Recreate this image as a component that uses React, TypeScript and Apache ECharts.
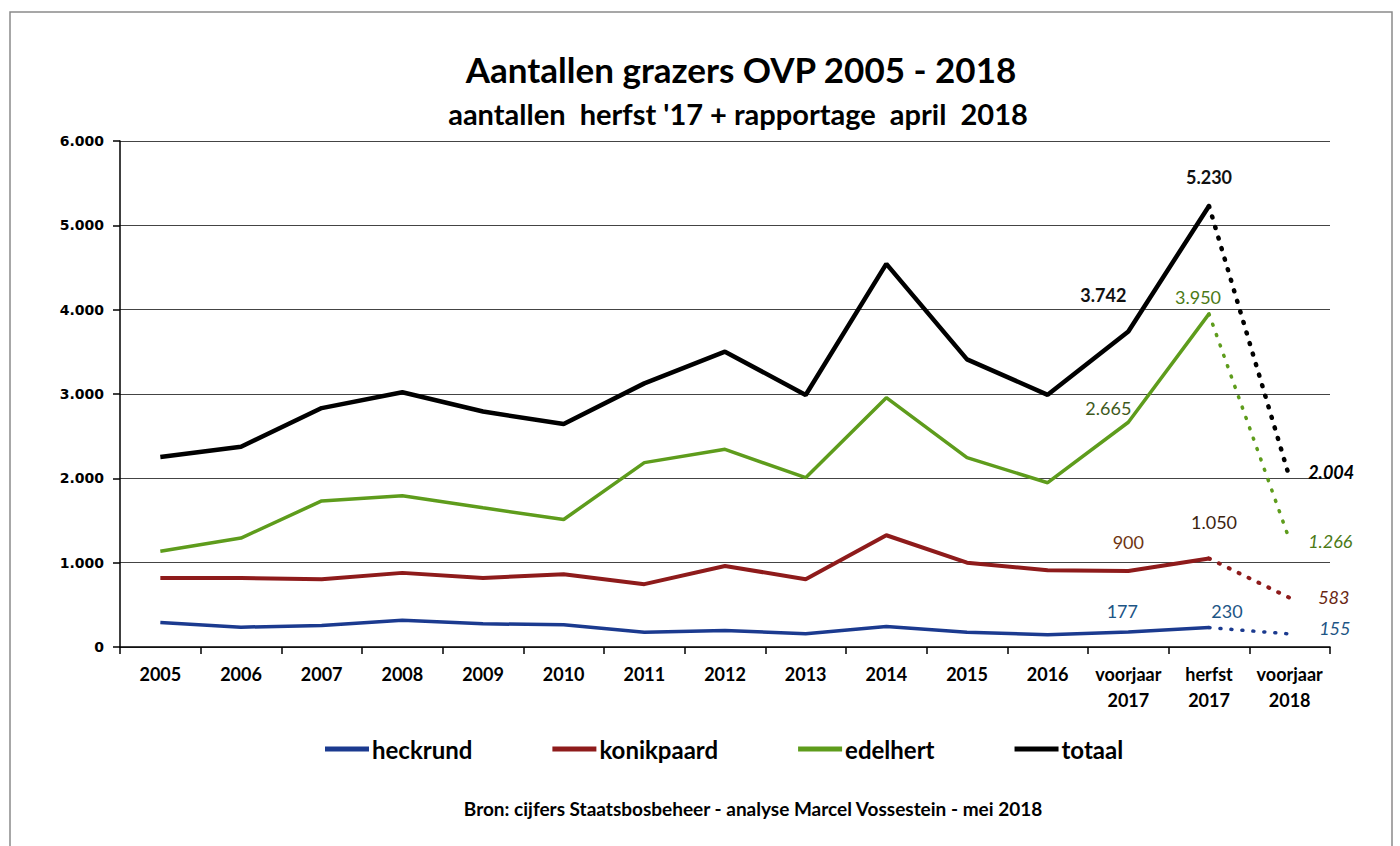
import React, { useEffect, useRef } from "react";
import * as echarts from "echarts";

const categories = [
  "2005", "2006", "2007", "2008", "2009", "2010", "2011", "2012", "2013", "2014", "2015", "2016",
  "voorjaar\n2017", "herfst\n2017", "voorjaar\n2018",
];
const heckrund = [291, 235, 255, 316, 275, 263, 176, 196, 157, 243, 176, 145, 177, 230, 155];
const konikpaard = [818, 818, 802, 879, 818, 863, 745, 961, 804, 1325, 1000, 910, 900, 1050, 583];
const edelhert = [1136, 1292, 1732, 1794, 1650, 1512, 2186, 2344, 2008, 2956, 2245, 1948, 2665, 3950, 1266];
const totaal = [2253, 2375, 2833, 3020, 2792, 2644, 3126, 3502, 2988, 4543, 3411, 2990, 3742, 5230, 2004];
const seriesNames = ["heckrund", "konikpaard", "edelhert", "totaal"];
const yTicks = [0, 1000, 2000, 3000, 4000, 5000, 6000];

const fmt = (v: number) => String(v).replace(/\B(?=(\d{3})+(?!\d))/g, ".");

const FONT = "Lato, 'Open Sans', sans-serif";

const lineColors = ["#1b3a8f", "#8e1b1b", "#5e9c1c", "#000000"];
const lineWidths = [3.5, 4, 3.5, 4.5];

const labelSpecs: any[] = [
  {
    12: { pos: "top", offset: [-6, -7], color: "#1d5585" },
    13: { pos: "top", offset: [18, -2], color: "#1d5585" },
    14: { pos: "right", offset: [24, -6], color: "#1d5585", italic: true },
  },
  {
    12: { pos: "top", offset: [0, -15], color: "#6e3512" },
    13: { pos: "top", offset: [5, -22], color: "#3c2410" },
    14: { pos: "right", offset: [23, -1], color: "#6a2712", italic: true },
  },
  {
    12: { pos: "top", offset: [-20, 0], color: "#3f5a1c" },
    13: { pos: "top", offset: [-11, -2], color: "#4c7a16" },
    14: { pos: "right", offset: [13, 1], color: "#4c7a16", italic: true },
  },
  {
    12: { pos: "top", offset: [-25, -22], color: "#111", bold: true },
    13: { pos: "top", offset: [0, -14], color: "#111", bold: true },
    14: { pos: "right", offset: [13, -6], color: "#000", bold: true, italic: true },
  },
];

function App() {
  const ref = useRef<HTMLDivElement>(null);
  useEffect(() => {
    if (!ref.current) return;
    const chart = echarts.init(ref.current, undefined, { renderer: "svg" });
    const all = [heckrund, konikpaard, edelhert, totaal];

    const mkItem = (si: number, i: number, v: number) => {
      const spec = labelSpecs[si][i];
      if (!spec) return v;
      return {
        value: v,
        label: {
          show: true,
          position: spec.pos,
          distance: 5,
          offset: spec.offset,
          color: spec.color,
          fontFamily: FONT,
          fontSize: 18,
          fontWeight: spec.bold ? "bold" : "normal",
          fontStyle: spec.italic ? "italic" : "normal",
          formatter: (p: any) => fmt(p.value),
        },
      };
    };

    const series: any[] = [];
    all.forEach((arr, si) => {
      series.push({
        name: seriesNames[si],
        type: "line",
        showSymbol: true,
        symbol: "circle",
        symbolSize: 1,
        z: 10 + si,
        lineStyle: { color: lineColors[si], width: lineWidths[si] },
        itemStyle: { color: "rgba(0,0,0,0)", borderWidth: 0 },
        data: arr.map((v, i) => (i <= 13 ? mkItem(si, i, v) : null)),
      });
      series.push({
        name: seriesNames[si] + " prognose",
        type: "line",
        showSymbol: true,
        symbol: "circle",
        symbolSize: 1,
        z: 10 + si,
        lineStyle: {
          color: lineColors[si],
          width: lineWidths[si],
          type: [1, 10],
          cap: "round",
        },
        itemStyle: { color: "rgba(0,0,0,0)", borderWidth: 0 },
        data: arr.map((v, i) => (i === 14 ? mkItem(si, i, v) : i === 13 ? v : null)),
      });
    });

    chart.setOption({
      animation: false,
      backgroundColor: "#ffffff",
      title: [
        {
          text: "Aantallen grazers OVP 2005 - 2018",
          left: 736,
          top: 46,
          textAlign: "center",
          textStyle: { fontFamily: FONT, fontSize: 35, fontWeight: "bold", color: "#000" },
        },
        {
          text: "aantallen  herfst '17 + rapportage  april  2018",
          left: 733,
          top: 94,
          textAlign: "center",
          textStyle: { fontFamily: FONT, fontSize: 29, fontWeight: "bold", color: "#000" },
        },
        {
          text: "Bron: cijfers Staatsbosbeheer - analyse Marcel Vossestein - mei 2018",
          left: 748,
          top: 794,
          textAlign: "center",
          textStyle: { fontFamily: FONT, fontSize: 19, fontWeight: "bold", color: "#000" },
        },
      ],
      graphic: [
        {
          type: "rect",
          shape: { x: 10, y: 12, width: 1382, height: 900 },
          style: { fill: "none", stroke: "#8a8a8a", lineWidth: 1.5 },
          silent: true,
        },
      ],
      legend: {
        data: seriesNames.map((n, i) => ({
          name: n,
          icon: "rect",
          itemStyle: { color: lineColors[i], opacity: 1 },
        })),
        left: 320,
        top: 732,
        icon: "rect",
        itemWidth: 44,
        itemHeight: 5,
        itemGap: 80,
        textStyle: { fontFamily: FONT, fontSize: 24, fontWeight: "bold", color: "#000", padding: [0, 0, 0, -2] },
      },
      grid: { left: 120, right: 70, top: 141, bottom: 199, containLabel: false },
      xAxis: {
        type: "category",
        data: categories,
        boundaryGap: true,
        axisLine: { show: true, lineStyle: { color: "#000", width: 1.5 } },
        axisTick: { show: true, length: 7, inside: false, alignWithLabel: false, lineStyle: { color: "#000", width: 1.5 } },
        axisLabel: {
          interval: 0,
          margin: 14,
          fontFamily: FONT,
          fontSize: 18,
          fontWeight: "bold",
          color: "#000",
          lineHeight: 26,
        },
      },
      yAxis: {
        type: "value",
        min: yTicks[0],
        max: yTicks[yTicks.length - 1],
        interval: 1000,
        axisLine: { show: true, lineStyle: { color: "#000", width: 1.5 } },
        axisTick: { show: true, length: 7, lineStyle: { color: "#000", width: 1.5 } },
        splitLine: { show: true, lineStyle: { color: "#444", width: 1.2 } },
        axisLabel: {
          margin: 16,
          fontFamily: "'DejaVu Sans', sans-serif",
          fontSize: 14,
          fontWeight: "bold",
          color: "#000",
          formatter: (v: number) => fmt(v),
        },
      },
      series,
    });
    return () => chart.dispose();
  }, []);
  return (
    <div
      ref={ref}
      style={{ position: "fixed", left: 0, top: 0, width: 1400, height: 846, background: "#fff" }}
    />
  );
}

export default App;
